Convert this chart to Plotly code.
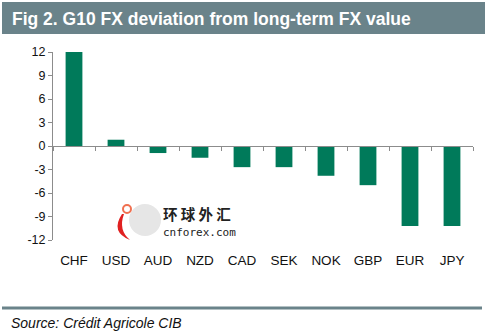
import plotly.graph_objects as go

categories = ["CHF", "USD", "AUD", "NZD", "CAD", "SEK", "NOK", "GBP", "EUR", "JPY"]
values = [12.1, 0.8, -0.9, -1.5, -2.7, -2.7, -3.8, -5.0, -10.2, -10.2]
y_ticks = [12, 9, 6, 3, 0, -3, -6, -9, -12]
title_text = "Fig 2. G10 FX deviation from long-term FX value"
source_text = "Source: Crédit Agricole CIB"

W, H = 487, 335
L, R, T, B = 53, 14, 52, 95
ph = H - T - B
pw = W - L - R

def py(ypx):
    return (H - B - ypx) / ph

def px(xpx):
    return (xpx - L) / pw

BAR = "#007a5a"
AX = "#8c8c8c"
BAND = "#6a838a"

fig = go.Figure()
fig.add_trace(go.Bar(x=categories, y=values, marker=dict(color=BAR, line=dict(width=0)),
                     width=0.4, hoverinfo="skip"))
# invisible trace to carry the zero-line axis
fig.add_trace(go.Scatter(x=[-0.5, len(categories) - 0.5], y=[0, 0], xaxis="x2", mode="lines",
                         line=dict(width=0), hoverinfo="skip", showlegend=False))

fig.update_layout(
    width=W, height=H,
    margin=dict(l=L, r=R, t=T, b=B),
    paper_bgcolor="white", plot_bgcolor="white",
    showlegend=False,
    font=dict(family="Liberation Sans, Arial, sans-serif", color="#000000"),
    xaxis=dict(type="category", range=[-0.5, len(categories) - 0.5], showline=False,
               showgrid=False, zeroline=False, ticks="", tickfont=dict(size=13.5, color="#111111"),
               ticklabelstandoff=10),
    xaxis2=dict(overlaying="x", anchor="free", position=0.5, range=[-0.5, len(categories) - 0.5],
                showline=True, linecolor=AX, linewidth=1, showgrid=False, zeroline=False,
                ticks="outside", ticklen=4, tickcolor=AX,
                tickvals=[i - 0.5 for i in range(len(categories) + 1)], showticklabels=False),
    yaxis=dict(range=[-12, 12], tickvals=y_ticks, ticktext=[str(v) for v in y_ticks],
               showline=True, linecolor=AX, linewidth=1, showgrid=False, zeroline=False,
               ticks="outside", ticklen=4, tickcolor=AX, tickfont=dict(size=12.5, color="#111111")),
    shapes=[
        dict(type="rect", xref="paper", yref="paper", x0=px(2), x1=px(485), y0=py(34), y1=py(2),
             fillcolor=BAND, line=dict(width=0), layer="below"),
        dict(type="line", xref="paper", yref="paper", x0=px(2), x1=px(482), y0=py(308), y1=py(308),
             line=dict(color=BAND, width=3)),
        # watermark logo
        dict(type="circle", xref="paper", yref="paper", x0=px(129), x1=px(161), y0=py(236), y1=py(204),
             fillcolor="#e6e6e6", line=dict(width=0), layer="below"),
        dict(type="circle", xref="paper", yref="paper", x0=px(123), x1=px(131), y0=py(213), y1=py(205),
             fillcolor="rgba(0,0,0,0)", line=dict(color="#f07050", width=2)),
        dict(type="path", xref="paper", yref="paper",
             path=f"M {px(122)} {py(214)} Q {px(110)} {py(232)} {px(130)} {py(240)} Q {px(118)} {py(230)} {px(124)} {py(214)} Z",
             fillcolor="#e02020", line=dict(width=0)),
    ],
    annotations=[
        dict(text=f"<b>{title_text}</b>", xref="paper", yref="paper", x=px(10), y=py(19),
             xanchor="left", yanchor="middle", showarrow=False,
             font=dict(size=17.5, color="white", family="Liberation Sans, Arial, sans-serif")),
        dict(text=f"<i>{source_text}</i>", xref="paper", yref="paper", x=px(9), y=py(323),
             xanchor="left", yanchor="middle", showarrow=False,
             font=dict(size=14, color="#111111", family="Liberation Sans, Arial, sans-serif")),
        dict(text="<b>环 球 外 汇</b>", xref="paper", yref="paper", x=px(161), y=py(213),
             xanchor="left", yanchor="middle", showarrow=False,
             font=dict(size=14.5, color="#222222", family="Noto Sans CJK SC")),
        dict(text="cnforex.com", xref="paper", yref="paper", x=px(161), y=py(232),
             xanchor="left", yanchor="middle", showarrow=False,
             font=dict(size=11, color="#222222", family="DejaVu Sans Mono")),
    ],
)

fig.write_html("out.html")
